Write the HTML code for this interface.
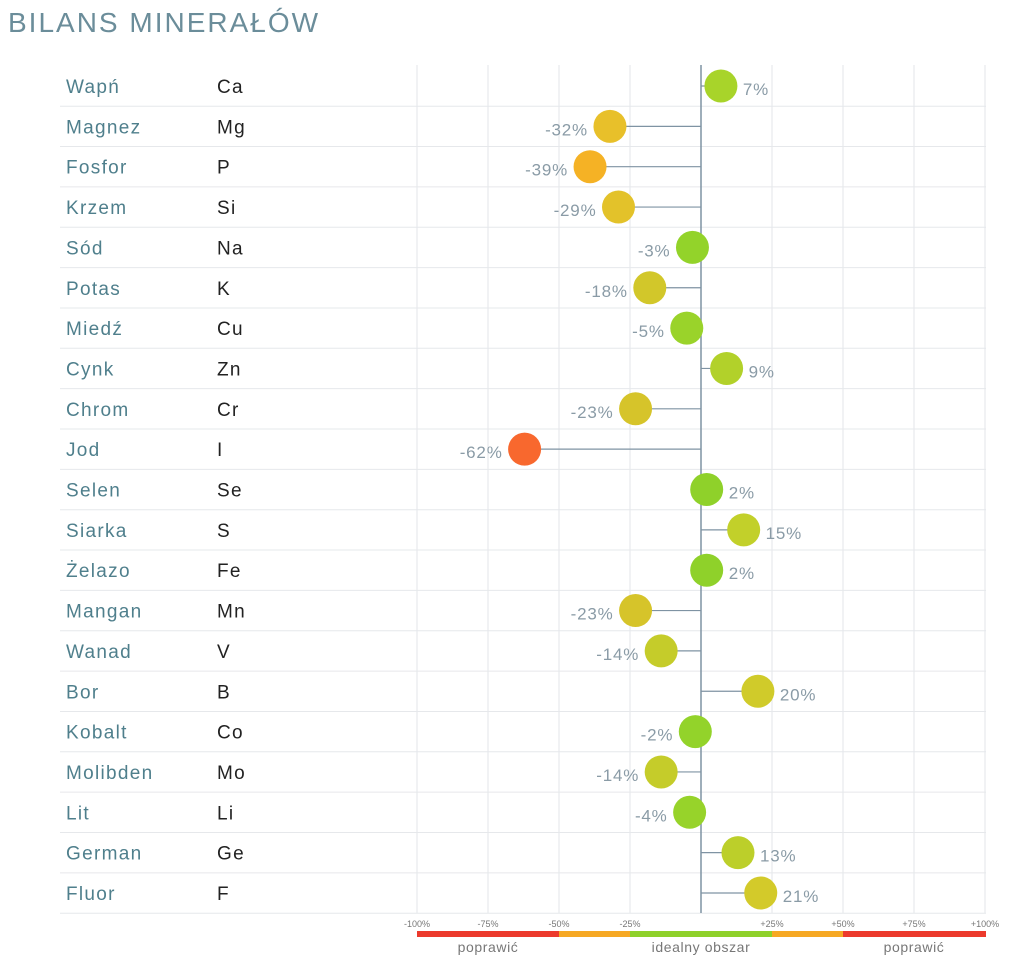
<!DOCTYPE html>
<html><head><meta charset="utf-8"><style>
html,body{margin:0;padding:0;background:#fff;width:1024px;height:973px;overflow:hidden}
svg{display:block;font-family:"Liberation Sans",sans-serif}
</style></head><body>
<svg width="1024" height="973" viewBox="0 0 1024 973">
<text x="8" y="32" font-size="28" fill="#6b8d9a" letter-spacing="2">BILANS MINERAŁÓW</text>
<g stroke="#e3e6ea" stroke-width="1">
<line x1="417" y1="65" x2="417" y2="913"/><line x1="488" y1="65" x2="488" y2="913"/><line x1="559" y1="65" x2="559" y2="913"/><line x1="630" y1="65" x2="630" y2="913"/><line x1="772" y1="65" x2="772" y2="913"/><line x1="843" y1="65" x2="843" y2="913"/><line x1="914" y1="65" x2="914" y2="913"/><line x1="985" y1="65" x2="985" y2="913"/>
</g>
<g id="rows"></g>
<line x1="701" y1="65" x2="701" y2="913" stroke="#7f93a3" stroke-width="1.5"/>
<g id="dots"></g>
<g font-size="9" fill="#777" text-anchor="middle">
<text x="417" y="927">-100%</text><text x="488" y="927">-75%</text><text x="559" y="927">-50%</text><text x="630" y="927">-25%</text><text x="772" y="927">+25%</text><text x="843" y="927">+50%</text><text x="914" y="927">+75%</text><text x="985" y="927">+100%</text>
</g>
<rect x="417" y="931" width="142" height="6" fill="#ec3a2c"/>
<rect x="559" y="931" width="71" height="6" fill="#f6a823"/>
<rect x="630" y="931" width="142" height="6" fill="#8fd12a"/>
<rect x="772" y="931" width="71" height="6" fill="#f6a823"/>
<rect x="843" y="931" width="143" height="6" fill="#ec3a2c"/>
<g font-size="14" fill="#777" text-anchor="middle" letter-spacing="0.6">
<text x="488" y="952">poprawić</text><text x="701" y="952">idealny obszar</text><text x="914" y="952">poprawić</text>
</g>
</svg>
<script>
var d=[["Wapń","Ca",7,"#a8d42a"],["Magnez","Mg",-32,"#e8c02a"],["Fosfor","P",-39,"#f5b225"],["Krzem","Si",-29,"#e3c22a"],["Sód","Na",-3,"#93d32a"],["Potas","K",-18,"#d2c72a"],["Miedź","Cu",-5,"#9ad32a"],["Cynk","Zn",9,"#b2d12a"],["Chrom","Cr",-23,"#d6c42a"],["Jod","I",-62,"#f8682e"],["Selen","Se",2,"#8fd12a"],["Siarka","S",15,"#c2d02a"],["Żelazo","Fe",2,"#8fd12a"],["Mangan","Mn",-23,"#d6c42a"],["Wanad","V",-14,"#c5cc2a"],["Bor","B",20,"#d0cb2a"],["Kobalt","Co",-2,"#93d32a"],["Molibden","Mo",-14,"#c5cc2a"],["Lit","Li",-4,"#97d32a"],["German","Ge",13,"#bccf2a"],["Fluor","F",21,"#d3ca2a"]];
var ns="http://www.w3.org/2000/svg",R=document.getElementById("rows"),D=document.getElementById("dots");
function el(p,t,a,txt){var e=document.createElementNS(ns,t);for(var k in a)e.setAttribute(k,a[k]);if(txt!=null)e.textContent=txt;p.appendChild(e);return e;}
d.forEach(function(r,i){var y=86+i*40.35;
el(R,"line",{x1:60,x2:986,y1:y+20.2,y2:y+20.2,stroke:"#e6e8eb"});
el(R,"text",{x:66,y:y+7,"font-size":19,fill:"#4f7f8c","letter-spacing":1.3},r[0]);
el(R,"text",{x:217,y:y+7,"font-size":19,fill:"#222","letter-spacing":1.3},r[1]);
var cx=701+r[2]*2.845;
el(D,"line",{x1:701,x2:cx,y1:y,y2:y,stroke:"#7f93a3","stroke-width":1.2});
el(D,"circle",{cx:cx,cy:y,r:16.5,fill:r[3]});
var lbl=r[2]+"%";
if(r[2]>=0)el(D,"text",{x:cx+22,y:y+9,"font-size":17,fill:"#8a9ba6","letter-spacing":0.8},lbl);
else el(D,"text",{x:cx-22,y:y+9,"font-size":17,fill:"#8a9ba6","text-anchor":"end","letter-spacing":0.8},lbl);
});
</script>
</body></html>
